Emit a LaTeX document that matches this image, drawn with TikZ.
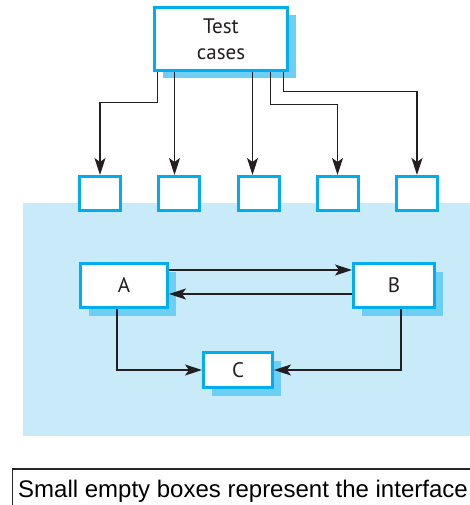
\documentclass[tikz,border=0pt]{standalone}
\usepackage{fontspec}
\setmainfont{PT Sans}
\newfontfamily\capfont{Liberation Sans}
\usetikzlibrary{arrows.meta,shadows,calc}
\definecolor{boxcyan}{HTML}{00AEEF}
\definecolor{shadowblue}{HTML}{6DCFF6}
\definecolor{bgblue}{HTML}{C8EAF9}
\definecolor{linedark}{HTML}{231F20}
\tikzset{
  compbox/.style={draw=boxcyan, line width=3pt, fill=white, inner sep=0pt,
    font=\fontsize{21}{26}\selectfont, text=linedark,
    general shadow={fill=shadowblue, shadow xshift=8pt, shadow yshift=-8pt}},
  ifbox/.style={draw=boxcyan, line width=3pt, fill=white, inner sep=0pt,
    minimum width=41pt, minimum height=34pt},
  arr/.style={draw=linedark, line width=1.2pt,
    -{Stealth[length=17pt,width=11pt,inset=4pt]}},
  captext/.style={font=\capfont\fontsize{24}{28}\selectfont, inner sep=0pt, text=black},
  capline/.style={draw=black!85, line width=1.2pt}
}
\begin{document}
\begin{tikzpicture}[x=1pt,y=-1pt]
\useasboundingbox (0,0) rectangle (470,505);
% background
\fill[bgblue] (23,203) rectangle (475,436);
% test cases
\node[compbox, minimum width=133pt, minimum height=63pt, align=center] (tc) at (221,39) {Test\\cases};
% interface boxes
\node[ifbox] (b1) at (100,193.5) {};
\node[ifbox] (b2) at (179,193.5) {};
\node[ifbox] (b3) at (258.5,193.5) {};
\node[ifbox] (b4) at (337.5,193.5) {};
\node[ifbox] (b5) at (417,193.5) {};
% components
\node[compbox, minimum width=87pt, minimum height=44pt] (A) at (124,285.5) {A};
\node[compbox, minimum width=81pt, minimum height=44pt] (B) at (394,285.5) {B};
\node[compbox, minimum width=69pt, minimum height=35pt] (C) at (238,370) {C};
% test case connectors
\draw[arr] ([xshift=4.5pt]tc.south west) -- ++(0,30.5) -| (b1.north);
\draw[arr] ([xshift=21.5pt]tc.south west) coordinate (s2) -- (s2 |- b2.north);
\draw[arr] ([xshift=99.5pt]tc.south west) coordinate (s3) -- (s3 |- b3.north);
\draw[arr] ([xshift=117.5pt]tc.south west) -- ++(0,32.5) -| (b4.north);
\draw[arr] ([xshift=130.5pt]tc.south west) -- ++(0,19.5) -| (b5.north);
% component connectors
\draw[arr] ($(A.east)+(0,-15.5)$) coordinate (ab) -- (ab -| B.west);
\draw[arr] ($(B.west)+(0,8.5)$) coordinate (ba) -- (ba -| A.east);
\draw[arr] ($(A.south)+(-7,0)$) |- (C.west);
\draw[arr] ($(B.south)+(7,0)$) |- (C.east);
% caption
\draw[capline] (12.5,520) |- (480,469);
\node[captext, anchor=base west] (cap) at (18,497) {Small empty boxes represent the interface};
\end{tikzpicture}
\end{document}
